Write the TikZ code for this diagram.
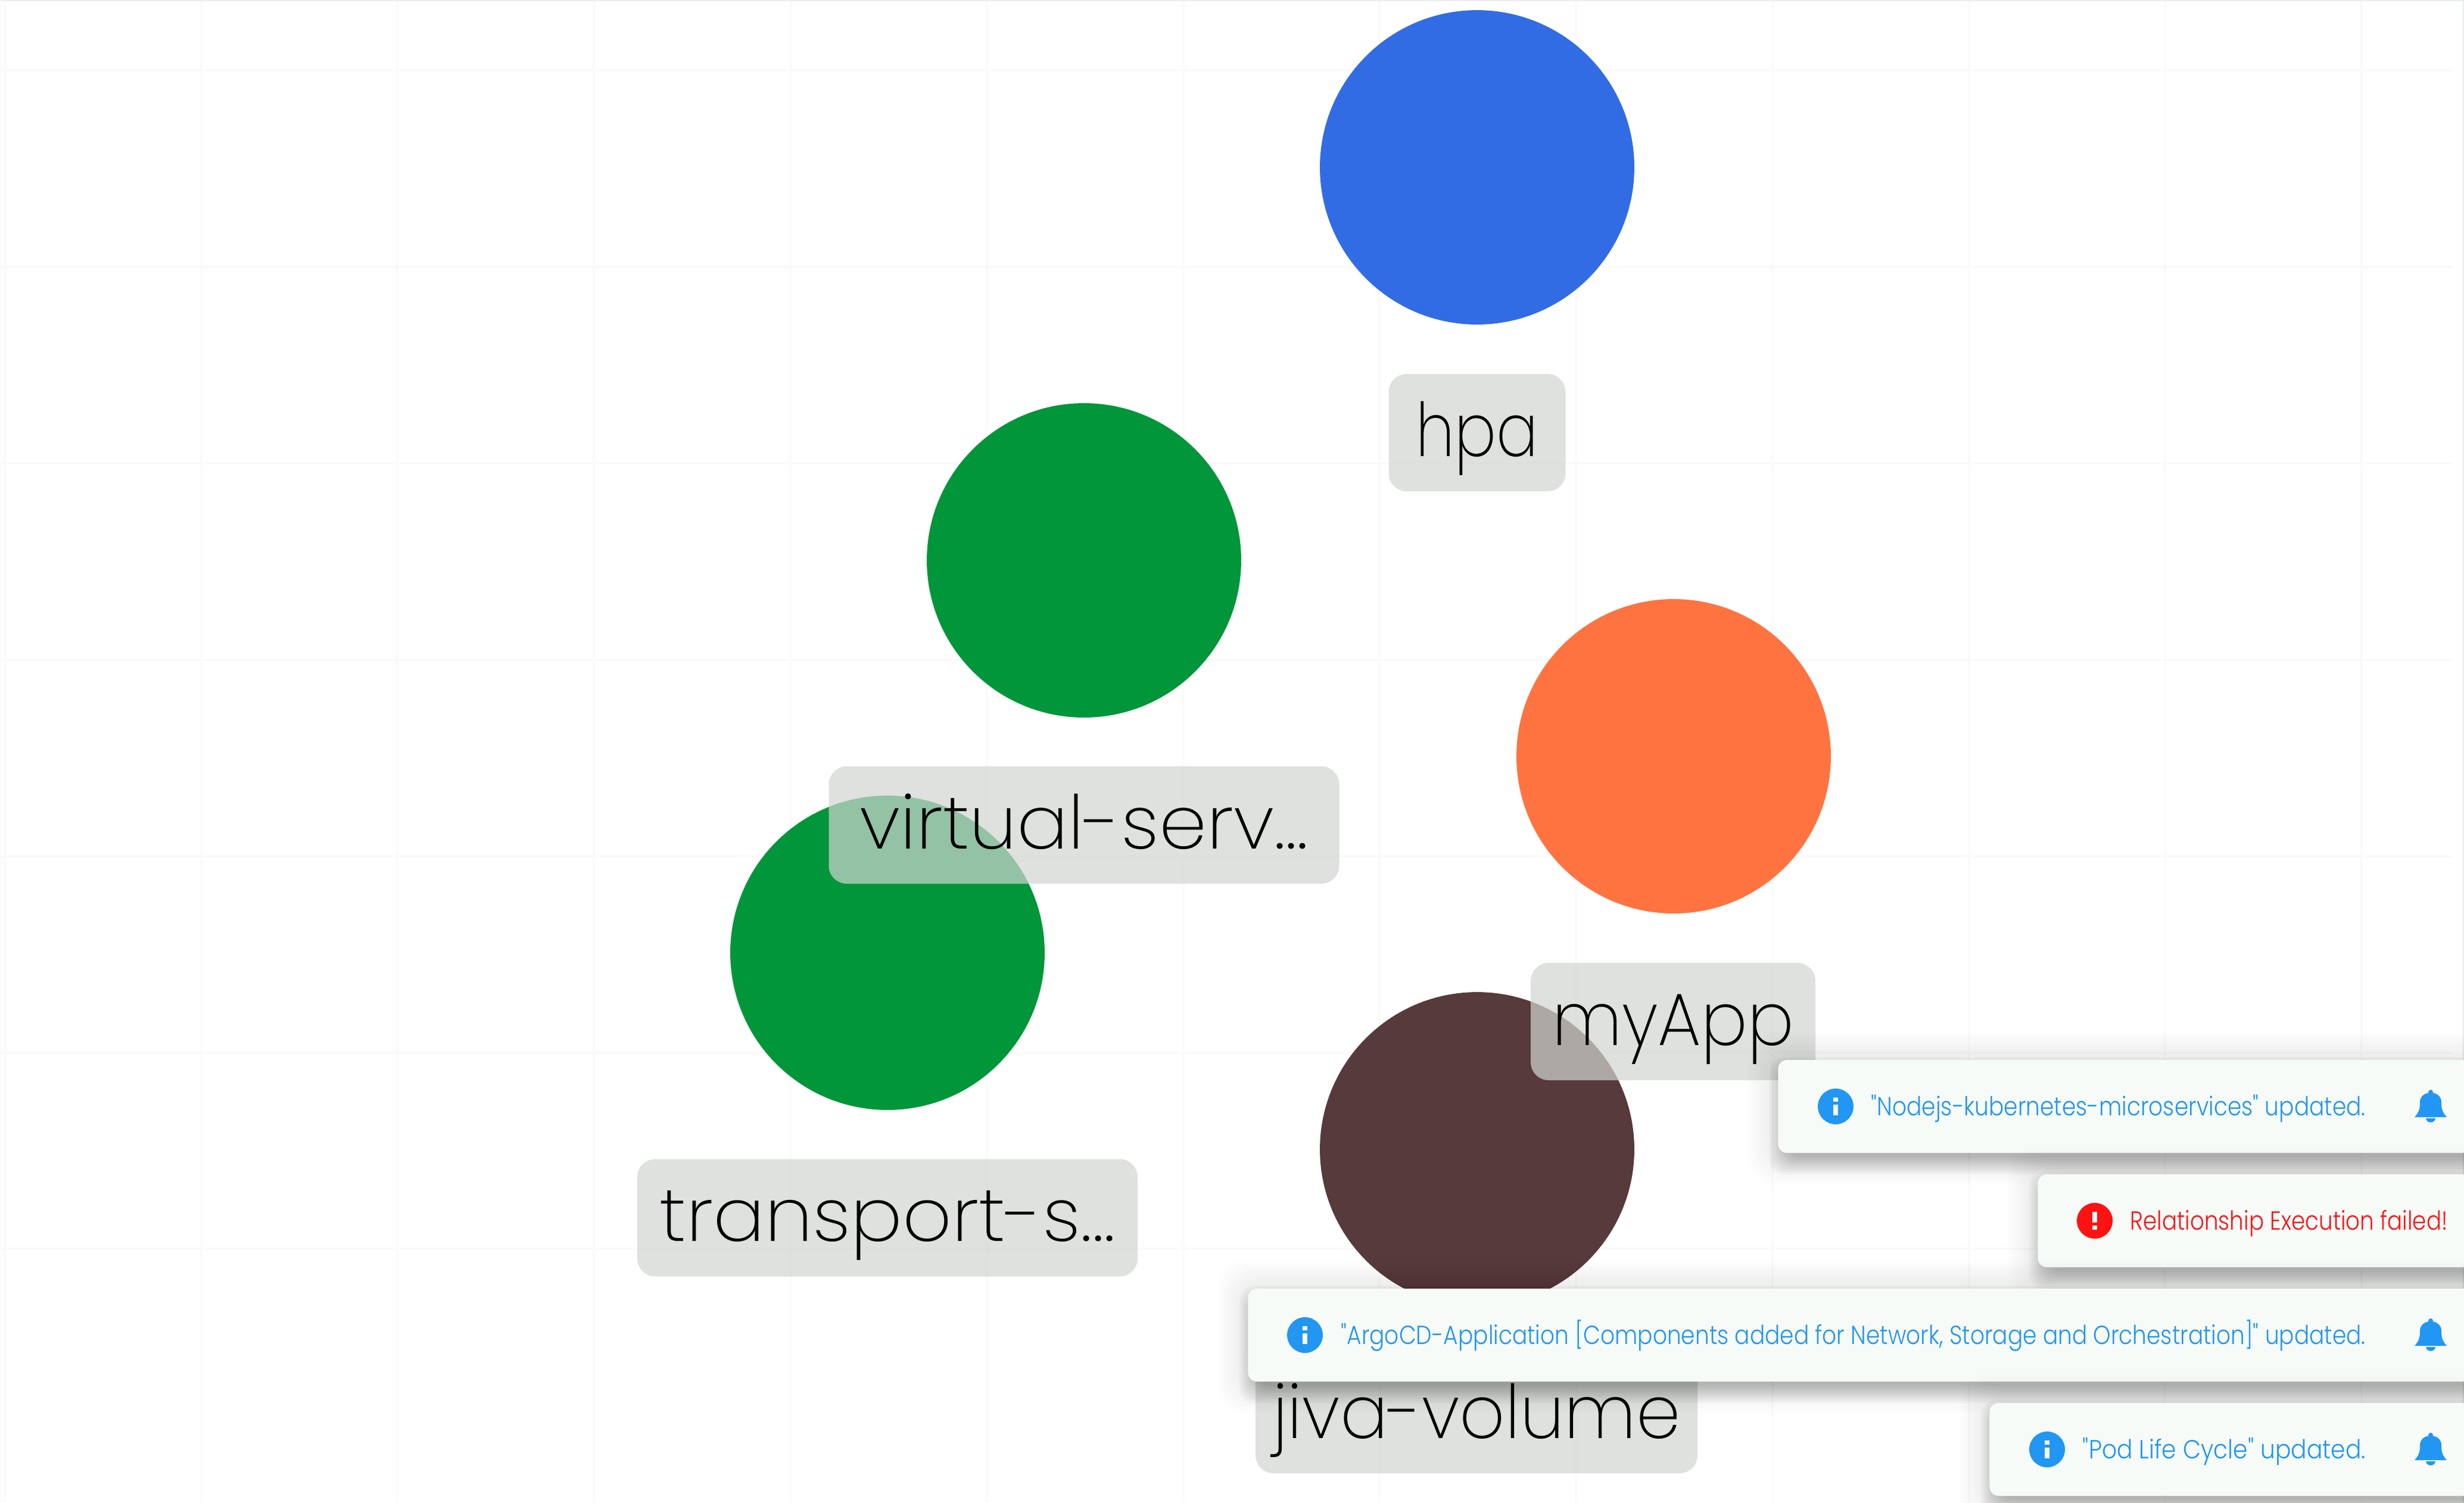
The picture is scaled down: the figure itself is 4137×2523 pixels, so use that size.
\documentclass[tikz,border=0pt]{standalone}
\usepackage{fontspec}
\usepackage{graphicx}
\setmainfont{Poppins}
\newfontfamily\lblfont{Poppins ExtraLight}
\newfontfamily\cardfont{Poppins Light}
\newlength{\pxu}\setlength{\pxu}{0.02cm}
\newcommand{\fitw}[2]{\resizebox{#1\pxu}{\height}{#2}}
\definecolor{hpablue}{HTML}{326CE5}
\definecolor{vsgreen}{HTML}{02963B}
\definecolor{apporange}{HTML}{FF7340}
\definecolor{volbrown}{HTML}{573A3B}
\definecolor{labelgrey}{HTML}{D1D5D0}
\definecolor{cardbg}{HTML}{F7FBF8}
\definecolor{infoblue}{HTML}{2196F3}
\definecolor{errred}{HTML}{FF1212}
\definecolor{gridc}{HTML}{FAFAFA}
\definecolor{edgec}{HTML}{E9EEF2}
\tikzset{
  x=0.02cm,y=-0.02cm,
  res/.style={circle,inner sep=0pt,minimum size=10.56cm,fill=#1},
  lab/.style={rectangle,rounded corners=0.6cm,fill=labelgrey,fill opacity=.71,text opacity=1,
    inner sep=0pt,minimum width=#1*0.02cm,text height=2.76cm,text depth=1.18cm,
    font=\lblfont\fontsize{71}{76}\selectfont,text=black},
  card/.style={rectangle,rounded corners=0.3cm,fill=cardbg,inner sep=0pt,minimum height=3.12cm,
    anchor=west},
  cardtxt/.style={inner sep=0pt,anchor=base east,font=\cardfont\fontsize{25}{30}\selectfont,text=infoblue},
  icon/.style={circle,inner sep=0pt,minimum size=1.2cm,fill=#1},
  gridline/.style={gridc,line width=0.08cm},
}
\newcommand{\cardshadow}[3]{%
  \foreach \e in {20,16,...,-8}{\fill[black,opacity=.026,rounded corners=0.5cm] (#1-\e+6,#2-\e+16) rectangle (4300+\e,#3+\e+16);}%
  \foreach \e in {50,45,...,-10}{\fill[black,opacity=.009,rounded corners=0.9cm] (#1-\e,#2-\e+3) rectangle (4300+\e,#3+\e+3);}%
}
\newcommand{\infomark}[2]{%
  \fill[white] (#1-4,#2-15) rectangle (#1+4,#2-8);
  \fill[white] (#1-4,#2-3) rectangle (#1+4,#2+15);
}
\newcommand{\bell}[2]{%
  \fill[infoblue] (#1,#2+3) circle[radius=4];
  \fill[infoblue] (#1-27,#2+45) .. controls (#1-19,#2+36) and (#1-18,#2+30) .. (#1-18,#2+20)
    .. controls (#1-18,#2+10) and (#1-10,#2+4) .. (#1,#2+4)
    .. controls (#1+10,#2+4) and (#1+18,#2+10) .. (#1+18,#2+20)
    .. controls (#1+18,#2+30) and (#1+19,#2+36) .. (#1+27,#2+45) -- cycle;
  \fill[infoblue] (#1-8,#2+47) .. controls (#1-7,#2+56) and (#1+7,#2+56) .. (#1+8,#2+47) -- cycle;
}
\begin{document}
\begin{tikzpicture}
\useasboundingbox (0,0) rectangle (4137,2523);
\clip (0,0) rectangle (4137,2523);
\fill[white] (0,0) rectangle (4137,2523);
% grid
\foreach \gx in {8,338,667,997,1327,1657,1987,2316,2646,2976,3306,3635,3965}{\draw[gridline] (\gx,2) -- (\gx,2523);}
\foreach \gy in {118,448,778,1108,1438,1768,2097}{\draw[gridline] (1,\gy) -- (4117,\gy);}
\draw[edgec,line width=0.05cm] (0,1) -- (4137,1);
\draw[gridc,line width=0.05cm] (1,0) -- (1,2523);
\draw[edgec,line width=0.05cm] (4136,0) -- (4136,2523);
% resources
\node[res=hpablue] (hpa) at (2480,281) {};
\node[res=vsgreen] (vs) at (1820,941) {};
\node[res=apporange] (app) at (2810,1270) {};
\node[res=vsgreen] (ts) at (1490,1600) {};
\node[res=volbrown] (vol) at (2480,1930) {};
% labels
\node[lab=297] (hpaL) at (2480,726.5) {\fitw{205}{hpa}};
\node[lab=857] (vsL) at (1820,1385.5) {\fitw{753}{virtual-serv...}};
\node[lab=478] (appL) at (2809,1715.5) {\fitw{406}{myApp}};
\node[lab=840] (tsL) at (1490,2045) {\fitw{765}{transport-s...}};
\node[lab=742] (volL) at (2479,2375.5) {\fitw{686}{jiva-volume}};
% notifications
\cardshadow{2985}{1780}{1936}
\node[card,minimum width=24cm] (c1) at (2985,1858) {};
\node[icon=infoblue] (i1) at (3082,1858) {};
\infomark{3082}{1858}
\node[cardtxt] (t1) at (3972,1873) {\fitw{830}{"Nodejs-kubernetes-microservices" updated.}};
\bell{4081}{1831}
\cardshadow{3421}{1972}{2128}
\node[card,minimum width=15cm] (c2) at (3421,2050) {};
\node[icon=errred] (i2) at (3517,2050) {};
\fill[white] (3513,2035) rectangle (3521,2053);
\fill[white] (3513,2058) rectangle (3521,2065);
\node[cardtxt,text=errred] (t2) at (4110,2065) {\fitw{533}{Relationship Execution failed!}};
\cardshadow{2095}{2164}{2320}
\node[card,minimum width=42cm] (c3) at (2095,2242) {};
\node[icon=infoblue] (i3) at (2191,2242) {};
\infomark{2191}{2242}
\node[cardtxt] (t3) at (3972,2257) {\fitw{1720}{"ArgoCD-Application [Components added for Network, Storage and Orchestration]" updated.}};
\bell{4081}{2215}
\cardshadow{3340}{2356}{2512}
\node[card,minimum width=17cm] (c4) at (3340,2434) {};
\node[icon=infoblue] (i4) at (3437,2434) {};
\infomark{3437}{2434}
\node[cardtxt] (t4) at (3972,2449) {\fitw{475}{"Pod Life Cycle" updated.}};
\bell{4081}{2407}
\end{tikzpicture}
\end{document}
